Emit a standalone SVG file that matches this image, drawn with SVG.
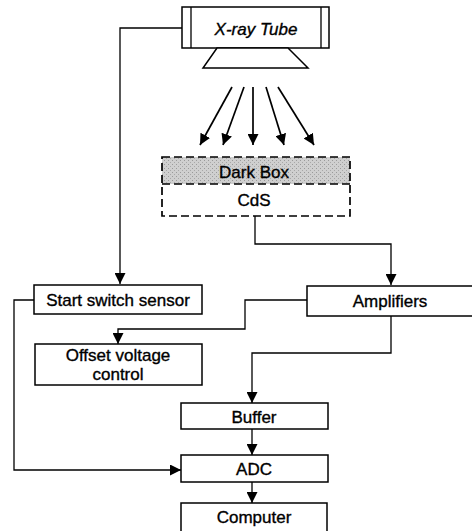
<svg xmlns="http://www.w3.org/2000/svg" width="472" height="531" viewBox="0 0 472 531">
<style>
  .box { fill: #fff; stroke: #000; stroke-width: 1.5; }
  .dash { fill: none; stroke: #000; stroke-width: 1.7; stroke-dasharray: 8 4; }
  .ln { fill: none; stroke: #000; stroke-width: 1.3; }
  .ray { fill: none; stroke: #000; stroke-width: 1.7; }
  text { font-family: "Liberation Sans", Arial, sans-serif; font-size: 17px; fill: #000; stroke: #000; stroke-width: 0.35; text-anchor: middle; dominant-baseline: central; }
</style>
<defs>
  <marker id="ah" viewBox="0 0 10 10" refX="10" refY="5" markerWidth="11" markerHeight="11" markerUnits="userSpaceOnUse" orient="auto">
    <path d="M0,0 L10,5 L0,10 Z" fill="#000"/>
  </marker>
  <pattern id="stip" width="4" height="4" patternUnits="userSpaceOnUse">
    <rect width="4" height="4" fill="#cfcfcf"/>
    <rect x="0" y="0" width="1" height="1" fill="#9a9a9a"/>
    <rect x="2" y="2" width="1" height="1" fill="#a8a8a8"/>
  </pattern>
</defs>
<rect width="472" height="531" fill="#fff"/>

<g id="connectors">
  <path class="ln" d="M182,28 H120 V284" marker-end="url(#ah)"/>
  <path class="ray" d="M232,87 L200,145" marker-end="url(#ah)"/>
  <path class="ray" d="M244,87 L223,145" marker-end="url(#ah)"/>
  <path class="ray" d="M253,87 L253,145" marker-end="url(#ah)"/>
  <path class="ray" d="M266,87 L284,145" marker-end="url(#ah)"/>
  <path class="ray" d="M278,87 L314,145" marker-end="url(#ah)"/>
  <path class="ln" d="M255,216 V244 H391 V285" marker-end="url(#ah)"/>
  <path class="ln" d="M307,300 H245 V329 H118 V344" marker-end="url(#ah)"/>
  <path class="ln" d="M391,316 V353 H252 V403" marker-end="url(#ah)"/>
  <path class="ln" d="M252,429 V455" marker-end="url(#ah)"/>
  <path class="ln" d="M252,482 V503" marker-end="url(#ah)"/>
  <path class="ln" d="M34,300 H14 V470 H181" marker-end="url(#ah)"/>
</g>

<g id="xray-tube">
  <rect class="box" x="182" y="7" width="147" height="41"/>
  <line class="ln" x1="191" y1="7" x2="191" y2="48"/>
  <line class="ln" x1="321" y1="7" x2="321" y2="48"/>
  <path class="box" d="M217,48 L288,48 L308,68 L203,68 Z"/>
  <text x="256" y="29" font-style="italic">X-ray Tube</text>
</g>

<g id="dark-box">
  <rect x="162" y="157" width="188" height="27" fill="url(#stip)"/>
  <rect class="dash" x="162" y="157" width="188" height="59"/>
  <line class="dash" x1="162" y1="184" x2="350" y2="184"/>
  <text x="254" y="172" font-size="16.5">Dark Box</text>
  <text x="254" y="200" font-size="16.5">CdS</text>
</g>

<g id="start-switch">
  <rect class="box" x="34" y="285" width="168" height="29"/>
  <text x="118" y="300">Start switch sensor</text>
</g>

<g id="amplifiers">
  <rect class="box" x="307" y="286" width="170" height="30"/>
  <text x="390" y="301">Amplifiers</text>
</g>

<g id="offset">
  <rect class="box" x="35" y="344" width="167" height="41"/>
  <text x="118" y="355">Offset voltage</text>
  <text x="118" y="374">control</text>
</g>

<g id="buffer">
  <rect class="box" x="181" y="403" width="147" height="26"/>
  <text x="254" y="417">Buffer</text>
</g>

<g id="adc">
  <rect class="box" x="181" y="455" width="147" height="27"/>
  <text x="254" y="469">ADC</text>
</g>

<g id="computer">
  <rect class="box" x="181" y="503" width="146" height="32"/>
  <text x="254" y="517">Computer</text>
</g>
</svg>
